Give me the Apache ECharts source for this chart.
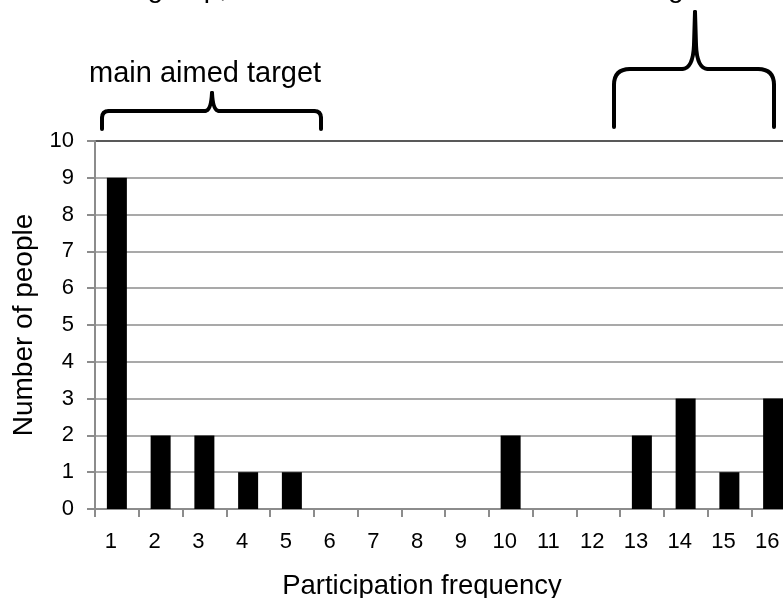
<!DOCTYPE html>
<html>
<head>
<meta charset="utf-8">
<script src="https://cdn.jsdelivr.net/npm/echarts@6/dist/echarts.min.js"></script>
<style>
html,body{margin:0;padding:0;background:#fff;}
#c{width:783px;height:598px;}
</style>
</head>
<body>
<div id="c"></div>
<script>
var categories = ['1','2','3','4','5','6','7','8','9','10','11','12','13','14','15','16'];
var peopleCounts = [9,2,2,1,1,0,0,0,0,2,0,0,2,3,1,3];
var yTicks = [0,1,2,3,4,5,6,7,8,9,10];
var xTitle = 'Participation frequency';
var yTitle = 'Number of people';
var leftNote = 'main aimed target';
var topNoteLeft = 'The core group,';
var topNoteRight = 'the most active members are the target';

var font = 'Arial, "Liberation Sans", sans-serif';
var chart = echarts.init(document.getElementById('c'), null, {renderer:'canvas'});

var splitColors = yTicks.map(function(v,i){ return i === yTicks.length-1 ? '#222' : '#8c8c8c'; });

var braceStyle = {stroke:'#000', lineWidth:4, fill:null, lineCap:'round', lineJoin:'round'};
// segments: ['L', x1,y1,x2,y2] or ['Q', x1,y1,cx,cy,x2,y2]
function brace(segs){
  return segs.map(function(s){
    if (s[0] === 'L') return {type:'line', shape:{x1:s[1],y1:s[2],x2:s[3],y2:s[4]}, style:braceStyle};
    return {type:'bezierCurve', shape:{x1:s[1],y1:s[2],cpx1:s[3],cpy1:s[4],x2:s[5],y2:s[6]}, style:braceStyle};
  });
}
var leftBrace = brace([
  ['L',102,129,102,118],['Q',102,118,102,111,109,111],['L',109,111,205,111],
  ['Q',205,111,211,111,212,93],['Q',212,93,213,111,219,111],['L',219,111,314,111],
  ['Q',314,111,321,111,321,118],['L',321,118,321,129]
]);
var rightBrace = brace([
  ['L',614,127,614,85],['Q',614,85,614,69,630,69],['L',630,69,682,69],
  ['Q',682,69,693,69,694,45],['L',694,45,695,12],['L',695,12,696,45],['Q',696,45,697,69,708,69],
  ['L',708,69,758,69],['Q',758,69,774,69,774,85],['L',774,85,774,127]
]);

chart.setOption({
  animation:false,
  grid:{left:95, top:141, width:700, height:368, containLabel:false, outerBoundsMode:'none'},
  xAxis:{
    type:'category', data:categories, boundaryGap:true,
    axisLine:{show:true, lineStyle:{color:'#8c8c8c', width:2}},
    axisTick:{show:true, alignWithLabel:false, length:8, lineStyle:{color:'#8c8c8c', width:2}},
    axisLabel:{color:'#000', fontSize:22, fontFamily:font, margin:22, padding:[0,12,0,0], hideOverlap:false},
    name:xTitle, nameLocation:'middle', nameGap:63,
    nameTextStyle:{color:'#000', fontSize:27.5, fontFamily:font, padding:[0,46,0,0]}
  },
  yAxis:{
    type:'value', min:0, max:10, interval:1,
    axisLine:{show:true, lineStyle:{color:'#8c8c8c', width:2}},
    axisTick:{show:true, length:8, lineStyle:{color:'#8c8c8c', width:2}},
    axisLabel:{color:'#000', fontSize:22, fontFamily:font, margin:21},
    splitLine:{show:true, lineStyle:{color:splitColors, width:1.5}},
    name:yTitle, nameLocation:'middle', nameGap:52,
    nameTextStyle:{color:'#000', fontSize:28, fontFamily:font}
  },
  series:[{
    type:'bar', data:peopleCounts, barWidth:20,
    itemStyle:{color:'#000'}
  }],
  graphic:[
    {type:'text', left:89, top:59, style:{text:leftNote, font:'29px '+font, fill:'#000'}},
    {type:'text', x:227, y:-25, style:{text:topNoteLeft, font:'28px '+font, fill:'#000', align:'right', verticalAlign:'top'}},
    {type:'text', x:707, y:-25, style:{text:topNoteRight, font:'28px '+font, fill:'#000', align:'right', verticalAlign:'top'}}
  ].concat(leftBrace, rightBrace)
});
</script>
</body>
</html>
